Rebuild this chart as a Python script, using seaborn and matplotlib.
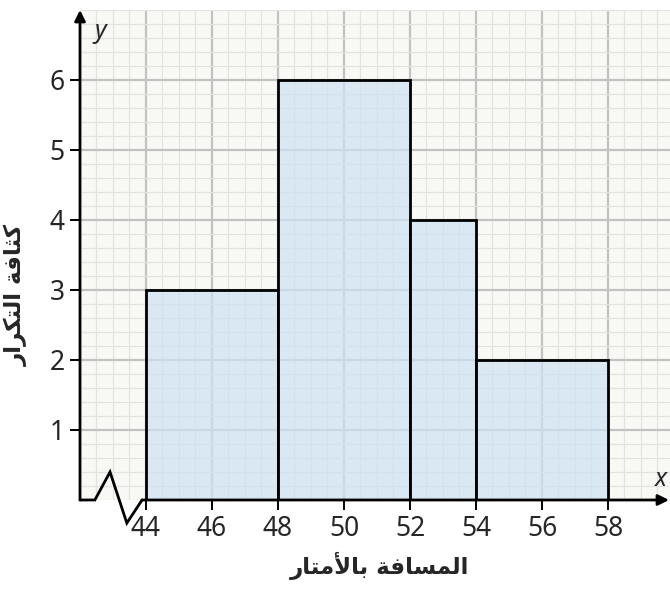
import numpy as np
import matplotlib
matplotlib.use("Agg")
import matplotlib.pyplot as plt
from matplotlib.ticker import MultipleLocator
import seaborn as sns

sns.set_theme(style="white")
plt.rcParams['font.family'] = ['Noto Sans', 'DejaVu Sans']

# ============================
# DATA
# ============================
bin_edges = [44, 48, 52, 54, 58]
bin_mids = [46, 50, 53, 56]
freq_density = [3, 6, 4, 2]
x_ticks = [44, 46, 48, 50, 52, 54, 56, 58]
y_ticks = [1, 2, 3, 4, 5, 6]
x_label = "المسافة بالأمتار"
y_label = "كثافة التكرار"

# ============================
# Arabic shaping (matplotlib has no text shaping)
# ============================
FORMS = {
    "ا": (0xFE8D, 0xFE8E, None, None),
    "أ": (0xFE83, 0xFE84, None, None),
    "ب": (0xFE8F, 0xFE90, 0xFE91, 0xFE92),
    "ة": (0xFE93, 0xFE94, None, None),
    "ت": (0xFE95, 0xFE96, 0xFE97, 0xFE98),
    "ث": (0xFE99, 0xFE9A, 0xFE9B, 0xFE9C),
    "ر": (0xFEAD, 0xFEAE, None, None),
    "س": (0xFEB1, 0xFEB2, 0xFEB3, 0xFEB4),
    "ف": (0xFED1, 0xFED2, 0xFED3, 0xFED4),
    "ك": (0xFED9, 0xFEDA, 0xFEDB, 0xFEDC),
    "ل": (0xFEDD, 0xFEDE, 0xFEDF, 0xFEE0),
    "م": (0xFEE1, 0xFEE2, 0xFEE3, 0xFEE4),
}
LAM_ALEF = {"ا": (0xFEFB, 0xFEFC), "أ": (0xFEF7, 0xFEF8)}


def shape(text):
    out = []
    i = 0
    prev_joins = False
    while i < len(text):
        c = text[i]
        if c not in FORMS:
            out.append(c)
            prev_joins = False
            i += 1
            continue
        nxt = text[i + 1] if i + 1 < len(text) else None
        if c == "ل" and nxt in LAM_ALEF:
            iso, fin = LAM_ALEF[nxt]
            out.append(chr(fin if prev_joins else iso))
            prev_joins = False
            i += 2
            continue
        iso, fin, ini, med = FORMS[c]
        dual = ini is not None
        join_next = dual and nxt in FORMS
        if prev_joins and join_next:
            g = med
        elif prev_joins:
            g = fin
        elif join_next:
            g = ini
        else:
            g = iso
        out.append(chr(g))
        prev_joins = dual
        i += 1
    return "".join(reversed(out))


# ============================
# PLOT
# ============================
fig = plt.figure(figsize=(6.7, 5.89), dpi=100)
ax = fig.add_axes([80 / 670, 89 / 589, 590 / 670, 490 / 589])
ax.set_facecolor("#f8f8f5")

sns.histplot(x=bin_mids, weights=freq_density, bins=bin_edges, stat="count",
             color="#cde2f3", alpha=0.7, edgecolor="black", linewidth=2.0, ax=ax)

ax.set_xlim(42, 59.88)
ax.set_ylim(0, 7.0)
ax.set_xticks(x_ticks)
ax.set_yticks(y_ticks)
ax.xaxis.set_minor_locator(MultipleLocator(0.5))
ax.yaxis.set_minor_locator(MultipleLocator(0.2))
ax.grid(which="major", color="#c2c2c2", linewidth=1.6)
ax.grid(which="minor", color="#e3e3e0", linewidth=0.9)
ax.set_axisbelow(True)

for s in ax.spines.values():
    s.set_visible(False)

ax.tick_params(which="major", direction="out", length=7, width=1.4, color="black",
               labelsize=19, pad=4, bottom=True, left=True)
ax.tick_params(which="minor", length=0)
ax.set_xlabel("")
ax.set_ylabel("")

# axes with arrows
ax.annotate("", xy=(42, 7.0), xytext=(42, 0), xycoords="data",
            arrowprops=dict(arrowstyle="-|>", color="black", lw=2.0,
                            mutation_scale=16, shrinkA=0, shrinkB=0),
            annotation_clip=False)
ax.annotate("", xy=(59.85, 0), xytext=(43.88, 0), xycoords="data",
            arrowprops=dict(arrowstyle="-|>", color="black", lw=2.0,
                            mutation_scale=16, shrinkA=0, shrinkB=0),
            annotation_clip=False)
# axis break zigzag
ax.plot([42, 42.45, 42.91, 43.42, 43.88], [0, 0, 0.4, -0.33, 0],
        color="black", lw=2.0, clip_on=False, solid_joinstyle="miter")

ax.text(42.6, 6.7, "y", fontsize=18, style="italic", ha="center", va="center")
ax.text(59.6, 0.3, "x", fontsize=18, style="italic", ha="center", va="center")

fig.text(380 / 670, 1 - 566 / 589, shape(x_label), fontsize=16.5, fontweight="bold",
         family="DejaVu Sans", ha="center", va="center")
fig.text(16 / 670, 1 - 295 / 589, shape(y_label), fontsize=16.5, fontweight="bold",
         family="DejaVu Sans", rotation=90, ha="center", va="center")

fig.savefig("out.png", dpi=100)
